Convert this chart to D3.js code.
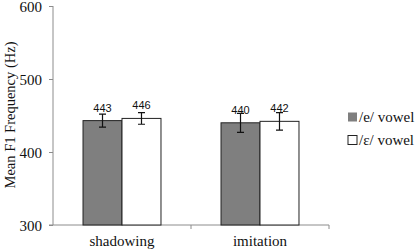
<!DOCTYPE html>
<html><head><meta charset="utf-8">
<script src="https://cdn.jsdelivr.net/npm/d3@7"></script>
<style>body{margin:0;background:#fff}svg{display:block}</style>
</head><body>
<script>
const categories = ["shadowing", "imitation"];
const seriesNames = ["/e/ vowel", "/ɛ/ vowel"];
const means = [[443, 446], [440, 442]];
const errors = [[9, 8], [13, 12]];
const yTicks = [300, 400, 500, 600];

const W = 415, H = 252;
const SERIF = "'Liberation Serif','Times New Roman',serif";
const SANS = "'Liberation Sans',Arial,sans-serif";
const svg = d3.select("body").append("svg").attr("width", W).attr("height", H);
const axisColor = "#8c8c8c";
const fills = ["#7f7f7f", "#ffffff"];

const y = d3.scaleLinear().domain([300, 600]).range([225, 6]);
const x0 = d3.scaleBand().domain(categories).range([53, 329]);
const x1 = d3.scaleBand().domain(seriesNames).range([0, x0.bandwidth()]).paddingOuter(0.77);

// y axis
const ya = svg.append("g").attr("transform", "translate(53,0)")
  .call(d3.axisLeft(y).tickValues(yTicks).tickSize(4).tickPadding(7).tickFormat(d3.format("d")));
ya.select(".domain").attr("stroke", axisColor).attr("d", `M0,${y(300)}V${y(600)}`);
ya.selectAll(".tick line").attr("stroke", axisColor);
ya.selectAll(".tick text").style("font-family", SERIF).style("font-size", "15px").attr("fill", "#111").attr("dy", "0.36em");

// x axis line
svg.append("line").attr("x1", 49).attr("x2", 329).attr("y1", y(300)).attr("y2", y(300)).attr("stroke", axisColor);
const bounds = categories.map(c => x0(c) + x0.bandwidth());
svg.selectAll(".xt").data(bounds).enter().append("line")
  .attr("x1", d => d).attr("x2", d => d).attr("y1", y(300)).attr("y2", y(300) + 4).attr("stroke", axisColor);
svg.selectAll(".xl").data(categories).enter().append("text")
  .attr("x", d => x0(d) + x0.bandwidth() / 2).attr("y", 246)
  .attr("text-anchor", "middle").style("font-family", SERIF).style("font-size", "15px").attr("fill", "#111")
  .text(d => d);

// y title
svg.append("text").attr("transform", "translate(15,115) rotate(-90)")
  .attr("text-anchor", "middle").style("font-family", SERIF).style("font-size", "14.5px").attr("fill", "#111")
  .text("Mean F1 Frequency (Hz)");

// bars
categories.forEach((c, ci) => {
  const g = svg.append("g").attr("transform", `translate(${x0(c)},0)`);
  seriesNames.forEach((s, si) => {
    const v = means[ci][si], e = errors[ci][si];
    const bx = x1(s), bw = x1.bandwidth(), cx = bx + bw / 2;
    g.append("rect").attr("x", bx).attr("y", y(v)).attr("width", bw).attr("height", y(300) - y(v))
      .attr("fill", fills[si]).attr("stroke", "#222").attr("stroke-width", 1);
    g.append("path").attr("d", `M${cx},${y(v + e)}V${y(v - e)}M${cx - 3.5},${y(v + e)}H${cx + 3.5}M${cx - 3.5},${y(v - e)}H${cx + 3.5}`)
      .attr("stroke", "#111").attr("stroke-width", 1.2).attr("fill", "none");
    g.append("text").attr("x", cx).attr("y", y(v) - 9).attr("text-anchor", "middle")
      .style("font-family", SANS).style("font-size", "11px").attr("fill", "#111")
      .text(v);
  });
});

// legend
seriesNames.forEach((s, si) => {
  const ly = 117 + si * 23;
  svg.append("rect").attr("x", 348).attr("y", ly - 4.5).attr("width", 9).attr("height", 9)
    .attr("fill", fills[si]).attr("stroke", si ? "#222" : "none");
  svg.append("text").attr("x", 359).attr("y", ly + 5).style("font-family", SERIF).style("font-size", "15px")
    .attr("fill", "#111").text(s);
});
</script>
</body></html>
